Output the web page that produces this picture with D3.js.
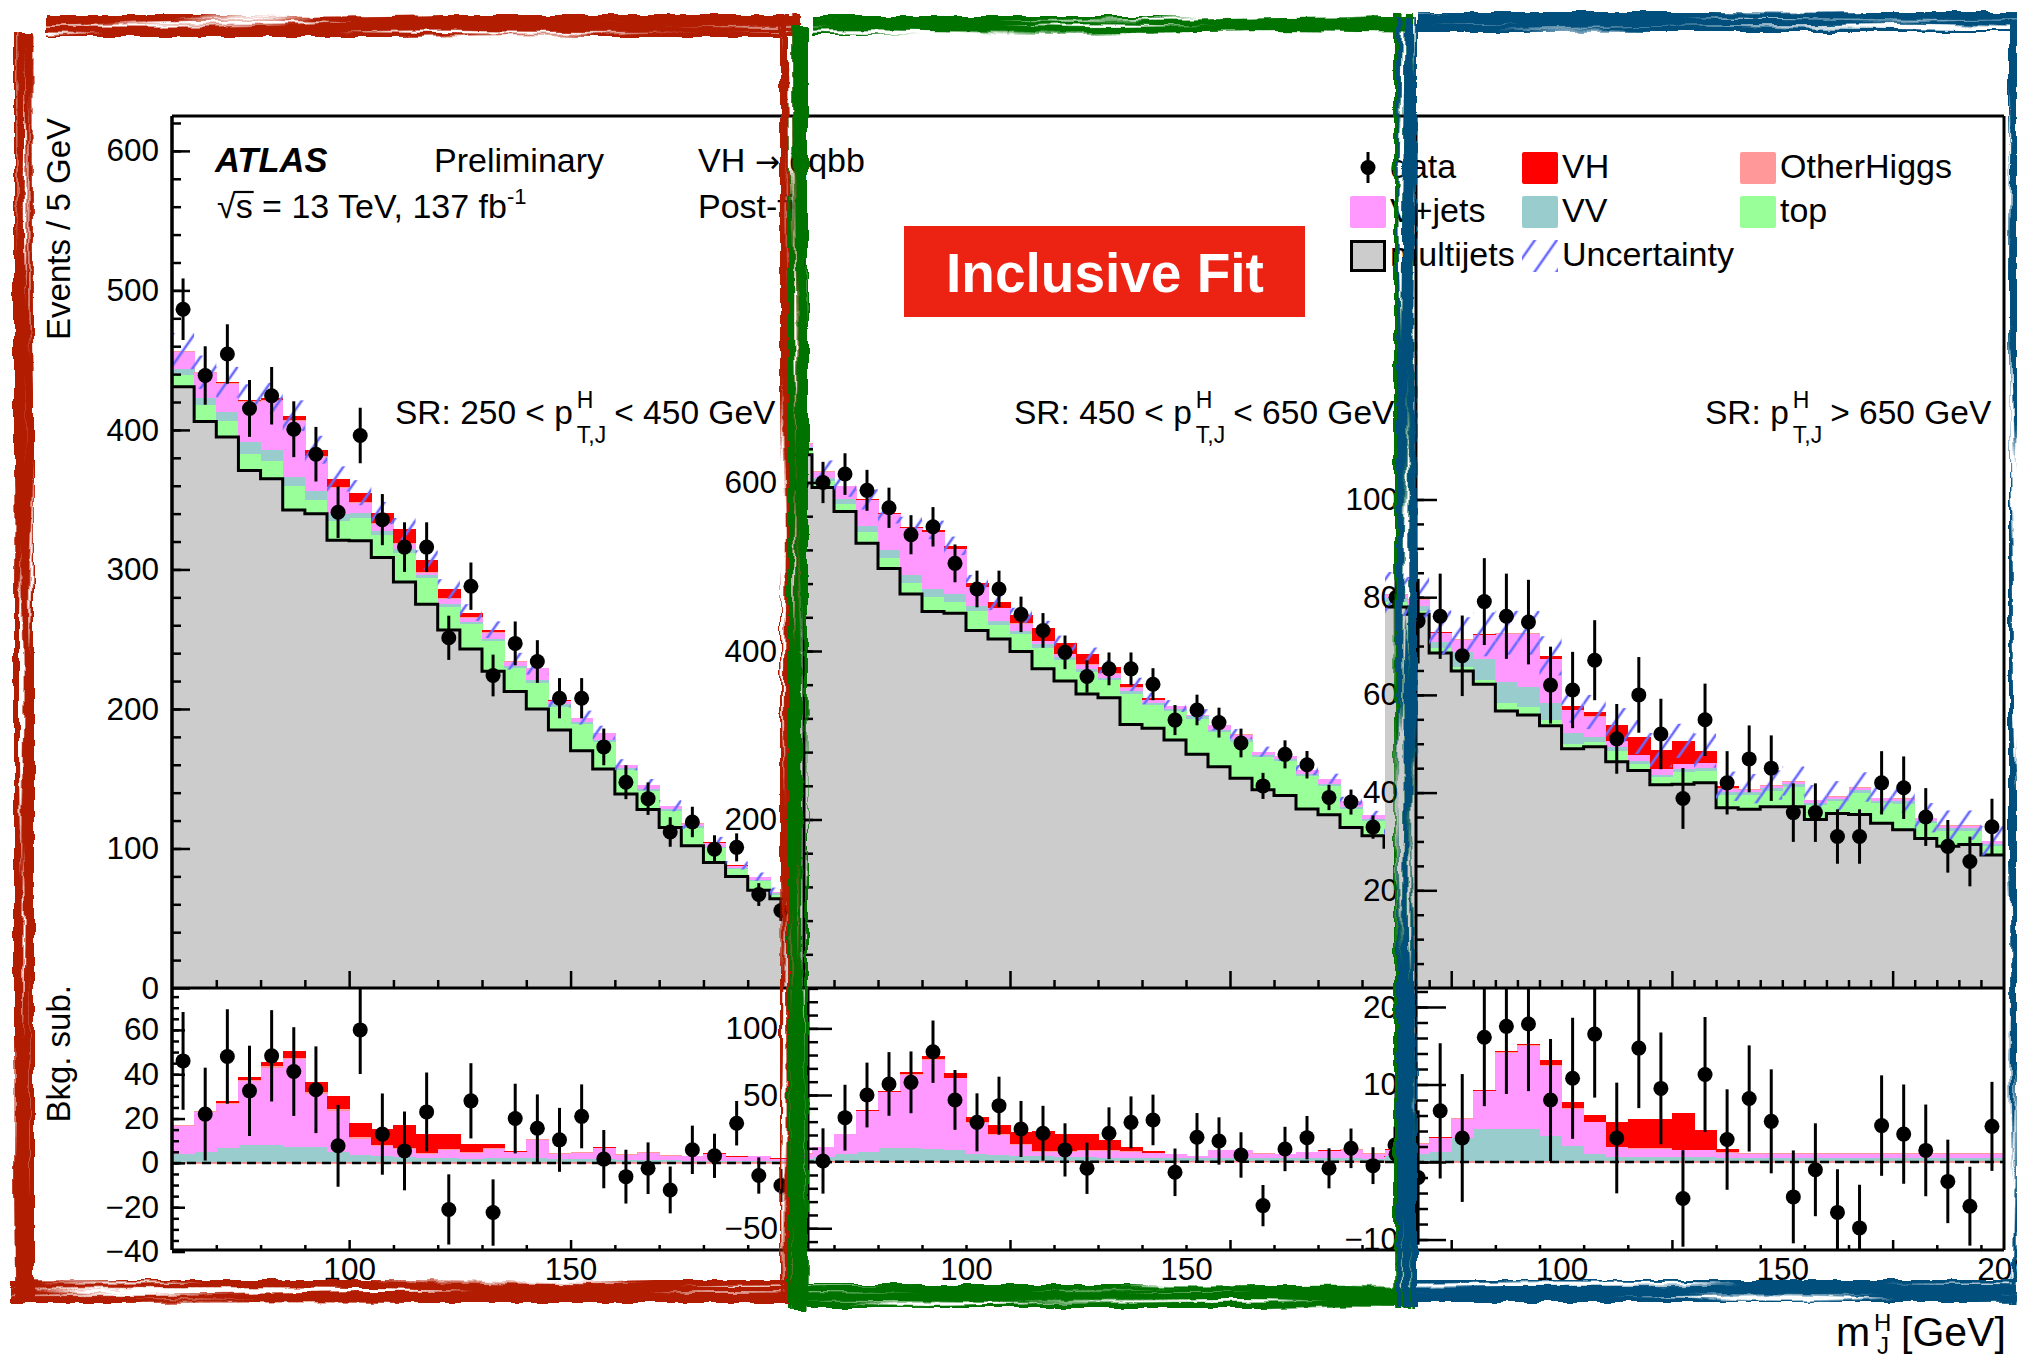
<!DOCTYPE html>
<html><head><meta charset="utf-8">
<script src="https://cdn.jsdelivr.net/npm/d3@7"></script>
<style>
html,body{margin:0;padding:0;background:#fff;overflow:hidden;}
</style></head><body>
<svg id="chart" width="2017" height="1358" xmlns="http://www.w3.org/2000/svg"></svg>
<script>
// ---------------- DATA ----------------
const massBins = [60,65,70,75,80,85,90,95,100,105,110,115,120,125,130,135,140,145,150,155,160,165,170,175,180,185,190,195];

// Panel 1 : 250 < pT < 450 GeV
const p1_multijets = [431,406,395,371,365,342.6,340,321,320.6,308.5,291,275,256.6,243,227,212.6,200,185,170,157,139,128,115,102,90,80,70,64];
const p1_top = [8.5,12,11.5,12,12.5,17,9.5,13.9,16.2,16.5,21,18.7,16.4,17.7,21.4,16.4,18.7,16.6,19,19,17,13,12,13,10,5,6.6,3];
const p1_VV = [4,5,6.6,8,8,7,7,4.7,3.6,2.9,2.6,2.1,2.1,1.8,2.1,2.1,2.1,1.7,1.7,1.7,1.4,1.4,1.1,1.0,1.0,0.9,0.9,0.8];
const p1_Vjets = [12.7,17.9,20,29,35,39.8,24,18.8,7.2,4.5,3.7,1.9,3.8,2.6,4.1,2.6,8.3,2.2,2.7,4.9,2.2,3.0,2.2,1.9,3.0,1.7,2.0,0.9];
const p1_OtherHiggs = [0.2,0.3,0.4,0.5,0.6,0.7,0.8,0.8,0.7,0.7,0.6,0.6,0.5,0.5,0.5,0.4,0.4,0.4,0.3,0.3,0.3,0.3,0.2,0.2,0.2,0.2,0.2,0.2];
const p1_VH = [0.1,0.1,0.7,1.2,1.8,3.1,4.5,5.7,6.7,7.3,10.0,8.4,6.6,3.5,1.7,0.1,0.1,0.2,0.1,0.1,0.1,0.1,0.1,0.1,0.1,0.1,0.1,0.1];
const p1_unc = [13,12,11,11,11,11,10,9,9,8,8,7,7,6,6,6,5,5,5,5,4,4,4,4,4,3,3,3];
const p1_data = [486.5,439,454.4,415.4,424.5,400.5,382.6,341,396,335.7,316,316,251,288,224,247,234,207.7,207.7,172.8,147.5,135.7,111.8,119,99.5,100.8,67,55.5];
const p1_dataSub = [46,22,48,32.5,48.3,41.2,33,7.7,60,13,5.4,23,-21,28,-22.4,20,15.6,10.4,21,1.7,-6.2,-2.4,-12.2,5.9,3.2,17.9,-5.7,-10.2];

// Panel 2 : 450 < pT < 650 GeV
const p2_multijets = [633,594,565.6,527.8,498,467.6,447,444.7,424.4,414.3,399.3,378.8,364.3,349,344.5,312.7,308.3,294.5,277.3,262.6,249,235.3,228.5,212.5,205.7,190.6,180.6,167];
const p2_top = [7,8,9.4,13.6,12.4,12.8,17.4,13.8,22.6,16.7,20.5,25,24.5,26.6,20.5,36.3,27.2,34.2,42.2,41,43.3,38.7,41,38.7,34.2,21.9,18.2,13.6];
const p2_VV = [2,3.8,5.5,7.5,10,10,9.5,9,6,5,4.5,4,3.5,3.5,3,3,3,3,3,3,3,2.5,2.5,2.5,2.5,2.5,2,2];
const p2_Vjets = [4,7,15,30.5,42,55,66.8,53.5,22.8,15,8,3.5,4,4.5,5,4.5,3.3,2.5,1,5.5,5.5,3.5,3,4.5,5.5,6.5,4,1.5];
const p2_OtherHiggs = [0.3,0.3,0.3,0.3,0.4,0.5,0.6,0.6,0.6,0.6,0.5,0.5,0.5,0.5,0.5,0.4,0.4,0.3,0.3,0.3,0.3,0.3,0.3,0.3,0.3,0.3,0.3,0.3];
const p2_VH = [0.2,0.1,0.2,0.2,0.6,1.5,2.4,3.2,3.9,6.9,9.5,15,12.5,12,7.8,3.4,1.6,0.2,0.2,0.2,0.2,0.2,0.2,0.2,0.2,0.2,0.2,0.2];
const p2_unc = [14,13,13,12,12,12,11,11,10,10,9,9,9,8,8,8,7,7,7,7,6,6,6,6,6,5,5,5];
const p2_data = [597,600,610,590.7,570,538,547.4,504,473.6,473.6,443.5,424.4,398.4,369.7,378.8,378.8,360.6,318,330,315,290.8,239.9,277.3,265,226.2,220.7,191,193];
const p2_dataSub = [-40,0.5,33,50,58.3,59.5,82.5,46.3,29.5,42,24.5,21.3,8.8,-5,21.3,29.5,31.3,-8,18.3,15.5,5,-33,9.5,18,-5,10,-3,12.5];

// Panel 3 : pT > 650 GeV
const p3_multijets = [78,76.5,68.6,64.9,62.2,56.7,55.9,53.7,49,49.4,46.3,44.5,41.6,41.7,42,36.9,36.6,37.1,37.1,34.5,35.7,35.5,33.7,32.4,30.6,29,29.4,27.2];
const p3_top = [1,0.7,1,0.8,0.9,1.7,1.6,1.2,1,1,2.3,1.4,1.5,2.6,2.5,2.7,3,3.3,4.1,2.9,2.5,4.5,4.1,5.3,3.1,3.2,2.8,1.8];
const p3_VV = [0.8,1.0,1.25,3.06,4.2,4.2,4.2,3.4,2.1,1.0,0.7,0.6,0.6,0.6,0.6,0.5,0.5,0.5,0.5,0.5,0.5,0.5,0.5,0.5,0.5,0.5,0.5,0.5];
const p3_Vjets = [0.7,1.3,1.8,2.5,4.9,9.9,10.8,9.0,4.8,4.1,1.2,1.1,1.1,0.9,0.9,0.7,0.5,0.5,0.5,0.5,0.5,0.5,0.5,0.5,0.5,0.5,0.5,0.5];
const p3_OtherHiggs = [0.1,0.1,0.1,0.1,0.1,0.1,0.1,0.1,0.1,0.1,0.1,0.1,0.1,0.1,0.1,0.1,0.1,0.1,0.1,0.1,0.1,0.1,0.1,0.1,0.1,0.1,0.1,0.1];
const p3_VH = [0.05,0.05,0.05,0.05,0.1,0.1,0.1,0.6,0.8,0.9,3.2,3.7,3.8,4.7,2.5,0.4,0.1,0.05,0.05,0.05,0.05,0.05,0.05,0.05,0.05,0.05,0.05,0.05];
const p3_unc = [4.5,4.5,4.5,4.5,4.5,4.5,4.5,4,3.5,3.5,3.5,3.5,3.5,3.5,3.5,3,3,3,3,3,3,3,3,3,3,3,3,3];
const p3_data = [80,75.1,76.1,68,79.1,76.1,74.9,62,61,67.1,51,60,52,38.8,54.9,42,46.9,45,35.9,35.9,31,31,42,41,35,29,25.9,33];
const p3_dataSub = [1,-2,6.6,3.1,16.1,17.5,17.8,8.0,10.8,16.5,3.1,14.7,9.5,-4.7,11.3,2.9,8.2,5.25,-4.5,-1,-6.5,-8.5,4.7,3.6,1.5,-2.5,-5.7,4.6];

// axis tick labels
const p1_topLabels = [0,100,200,300,400,500,600];
const p1_botLabels = [-40,-20,0,20,40,60];
const p2_topLabels = [200,400,600];
const p2_botLabels = [-50,50,100];
const p3_topLabels = [20,40,60,80,100];
const p3_botLabels = [-10,10,20];
const p1_xLabels = [100,150];
const p2_xLabels = [100,150];
const p3_xLabels = [100,150,200];

const legendRows = [
  [{key:"data",label:"data"},{key:"VH",label:"VH"},{key:"OtherHiggs",label:"OtherHiggs"}],
  [{key:"Vjets",label:"V+jets"},{key:"VV",label:"VV"},{key:"top",label:"top"}],
  [{key:"multijets",label:"multijets"},{key:"unc",label:"Uncertainty"}]
];

// ---------------- STYLE ----------------
const FONT = '"Liberation Sans", Arial, Helvetica, sans-serif';
const TICKFS = 31.5;
const colors = {multijets:"#cccccc", top:"#99ff99", VV:"#99cccc", Vjets:"#ff99ff", OtherHiggs:"#ff9999", VH:"#ff0000"};
const topKeys = ["multijets","top","VV","Vjets","OtherHiggs","VH"];
const botKeys = ["VV","Vjets","OtherHiggs","VH"];
const Y_TOP0 = 116, Y_MID = 988, Y_BOT = 1250, X_LEFT = 172, X_RIGHT = 2004;

const panels = [
  {mj:p1_multijets, top:p1_top, VV:p1_VV, Vjets:p1_Vjets, OH:p1_OtherHiggs, VH:p1_VH, unc:p1_unc, data:p1_data, sub:p1_dataSub,
   x0:172, x1:792, topDomain:[0,625], botDomain:[-39.3,78.9],
   yAxT:172, yAxB:172, topMajor:d3.range(0,601,100), topMinor:d3.range(20,625,20), topLabels:p1_topLabels, padT:13, majT:18, minT:9,
   botMajor:d3.range(-40,61,20), botMinor:d3.range(-35,78,5), botLabels:p1_botLabels, padB:13, majB:13, minB:7,
   xMajor:[100,150], xMinor:[70,80,90,110,120,130,140,160,170,180,190], xLabels:p1_xLabels,
   xMajorB:[100,150], xMinorB:[70,80,90,110,120,130,140,160,170,180,190]},
  {mj:p2_multijets, top:p2_top, VV:p2_VV, Vjets:p2_Vjets, OH:p2_OtherHiggs, VH:p2_VH, unc:p2_unc, data:p2_data, sub:p2_dataSub,
   x0:790, x1:1406, topDomain:[0,1035], botDomain:[-66.3,130.3],
   yAxT:804, yAxB:808, topMajor:[200,400,600], topMinor:d3.range(40,660,40), topLabels:p2_topLabels, padT:27, majT:18, minT:9,
   botMajor:[-50,0,50,100], botMinor:d3.range(-60,131,10), botLabels:p2_botLabels, padB:30, majB:24, minB:10,
   xMajor:[110,160], xMinor:[70,80,90,100,120,130,140,150,170,180,190], xLabels:p2_xLabels,
   xMajorB:[110,160], xMinorB:[70,80,90,100,120,130,140,150,170,180,190]},
  {mj:p3_multijets, top:p3_top, VV:p3_VV, Vjets:p3_Vjets, OH:p3_OtherHiggs, VH:p3_VH, unc:p3_unc, data:p3_data, sub:p3_dataSub,
   x0:1385, x1:2003, topDomain:[0,178.5], botDomain:[-11.35,22.45],
   yAxT:1416, yAxB:1416, topMajor:[20,40,60,80,100], topMinor:d3.range(5,101,5), topLabels:p3_topLabels, padT:18, majT:21, minT:8,
   botMajor:[-10,0,10,20], botMinor:d3.range(-10,23,2), botLabels:p3_botLabels, padB:18, majB:30, minB:12,
   xMajor:[75,125,175], xMinor:d3.range(65,200,5).filter(v=>v%50!==25), xLabels:p3_xLabels,
   xMajorB:[75,125,175], xMinorB:[85,95,105,115,135,145,155,165,185,195]}
];

// ---------------- DRAW ----------------
const svg = d3.select("#chart");
svg.append("rect").attr("width",2017).attr("height",1358).attr("fill","#fff");
const defs = svg.append("defs");

const pat = defs.append("pattern").attr("id","hatch").attr("patternUnits","userSpaceOnUse")
  .attr("width",18).attr("height",18).attr("patternTransform","rotate(35)");
pat.append("line").attr("x1",9).attr("y1",-2).attr("x2",9).attr("y2",20)
  .attr("stroke","#6a6aff").attr("stroke-width",2.6);

function brushFilter(id, freq, seed) {
  const f = defs.append("filter").attr("id", id).attr("filterUnits","userSpaceOnUse")
    .attr("x",0).attr("y",0).attr("width",2017).attr("height",1358);
  f.append("feTurbulence").attr("type","fractalNoise").attr("baseFrequency",freq)
    .attr("numOctaves",2).attr("seed",seed).attr("result","streak");
  f.append("feColorMatrix").attr("in","streak").attr("type","matrix")
    .attr("values","0 0 0 0 0  0 0 0 0 0  0 0 0 0 0  9 0 0 0 -3.0").attr("result","mask");
  f.append("feComposite").attr("in","SourceGraphic").attr("in2","mask").attr("operator","in").attr("result","streaked");
  f.append("feTurbulence").attr("type","fractalNoise").attr("baseFrequency","0.05")
    .attr("numOctaves",2).attr("seed",seed+11).attr("result","wob");
  f.append("feDisplacementMap").attr("in","streaked").attr("in2","wob").attr("scale",7)
    .attr("xChannelSelector","R").attr("yChannelSelector","G");
}
brushFilter("brushH","0.003 0.16",3);
brushFilter("brushV","0.16 0.003",7);

function styleAxis(a, fs) {
  a.select(".domain").remove();
  a.selectAll("line").attr("stroke","#000").attr("stroke-width",2.5);
  a.attr("font-family", FONT).attr("font-size", fs || TICKFS);
  a.selectAll("text").attr("fill","#000");
}

panels.forEach((p, i) => {
  const xs = d3.scaleLinear().domain([60,200]).range([p.x0, p.x1]);
  const yT = d3.scaleLinear().domain(p.topDomain).range([Y_MID, Y_TOP0]);
  const yB = d3.scaleLinear().domain(p.botDomain).range([Y_BOT, Y_MID]);

  defs.append("clipPath").attr("id","clipT"+i).append("rect")
    .attr("x",p.x0).attr("y",Y_TOP0).attr("width",p.x1-p.x0).attr("height",Y_MID-Y_TOP0);
  defs.append("clipPath").attr("id","clipB"+i).append("rect")
    .attr("x",p.x0).attr("y",Y_MID).attr("width",p.x1-p.x0).attr("height",Y_BOT-Y_MID);

  const rows = massBins.map((m,k) => ({m, multijets:p.mj[k], top:p.top[k], VV:p.VV[k], Vjets:p.Vjets[k],
    OtherHiggs:p.OH[k], VH:p.VH[k], data:p.data[k], sub:p.sub[k], unc:p.unc[k]}));

  // ---- top pad ----
  const gT = svg.append("g").attr("clip-path",`url(#clipT${i})`);
  const stT = d3.stack().keys(topKeys)(rows);
  stT.forEach(s => {
    gT.append("g").attr("fill", colors[s.key]).attr("shape-rendering","crispEdges")
      .selectAll("rect").data(s).join("rect")
      .attr("x", d => xs(d.data.m)).attr("width", d => xs(d.data.m+5) - xs(d.data.m) + 0.7)
      .attr("y", d => yT(d[1])).attr("height", d => Math.max(0, yT(d[0]) - yT(d[1])));
  });
  const pts = rows.map(r => [r.m, r.multijets]);
  pts.push([200, rows[rows.length-1].multijets]);
  gT.append("path").attr("d", d3.line().x(d => xs(d[0])).y(d => yT(d[1])).curve(d3.curveStepAfter)(pts))
    .attr("fill","none").attr("stroke","#000").attr("stroke-width",3);
  const totals = stT[stT.length-1].map(d => d[1]);
  gT.append("g").selectAll("rect").data(rows).join("rect")
    .attr("x", d => xs(d.m)).attr("width", d => xs(d.m+5) - xs(d.m))
    .attr("y", (d,k) => yT(totals[k] + d.unc))
    .attr("height", (d,k) => yT(totals[k] - d.unc) - yT(totals[k] + d.unc))
    .attr("fill","url(#hatch)");
  const dT = gT.append("g");
  dT.selectAll("line").data(rows).join("line")
    .attr("x1", d => xs(d.m+2.5)).attr("x2", d => xs(d.m+2.5))
    .attr("y1", d => yT(d.data + Math.sqrt(d.data))).attr("y2", d => yT(d.data - Math.sqrt(d.data)))
    .attr("stroke","#000").attr("stroke-width",3);
  dT.selectAll("circle").data(rows).join("circle")
    .attr("cx", d => xs(d.m+2.5)).attr("cy", d => yT(d.data)).attr("r",7.5).attr("fill","#000");

  // ---- bottom pad ----
  const gB = svg.append("g").attr("clip-path",`url(#clipB${i})`);
  const stB = d3.stack().keys(botKeys)(rows);
  stB.forEach(s => {
    gB.append("g").attr("fill", colors[s.key]).attr("shape-rendering","crispEdges")
      .selectAll("rect").data(s).join("rect")
      .attr("x", d => xs(d.data.m)).attr("width", d => xs(d.data.m+5) - xs(d.data.m) + 0.7)
      .attr("y", d => yB(d[1])).attr("height", d => Math.max(0, yB(d[0]) - yB(d[1])));
  });
  gB.append("line").attr("x1",p.x0).attr("x2",p.x1).attr("y1",yB(0)).attr("y2",yB(0))
    .attr("stroke","#ff7777").attr("stroke-width",1.5);
  gB.append("line").attr("x1",p.x0).attr("x2",p.x1).attr("y1",yB(0)).attr("y2",yB(0))
    .attr("stroke","#000").attr("stroke-width",2.5).attr("stroke-dasharray","9,6");
  const dB = gB.append("g");
  dB.selectAll("line").data(rows).join("line")
    .attr("x1", d => xs(d.m+2.5)).attr("x2", d => xs(d.m+2.5))
    .attr("y1", d => yB(d.sub + Math.sqrt(d.data))).attr("y2", d => yB(d.sub - Math.sqrt(d.data)))
    .attr("stroke","#000").attr("stroke-width",3);
  dB.selectAll("circle").data(rows).join("circle")
    .attr("cx", d => xs(d.m+2.5)).attr("cy", d => yB(d.sub)).attr("r",7.5).attr("fill","#000");

  // ---- axes ----
  const gA = svg.append("g");
  gA.append("line").attr("x1",p.yAxT).attr("x2",p.yAxT).attr("y1",Y_TOP0).attr("y2",Y_MID).attr("stroke","#000").attr("stroke-width",3);
  gA.append("line").attr("x1",p.yAxB).attr("x2",p.yAxB).attr("y1",Y_MID).attr("y2",Y_BOT).attr("stroke","#000").attr("stroke-width",3);
  styleAxis(gA.append("g").attr("transform",`translate(${p.yAxT},0)`)
    .call(d3.axisRight(yT).tickValues(p.topMinor).tickSize(p.minT).tickFormat("")));
  styleAxis(gA.append("g").attr("transform",`translate(${p.yAxT},0)`)
    .call(d3.axisRight(yT).tickValues(p.topMajor).tickSize(p.majT).tickFormat("")));
  styleAxis(gA.append("g").attr("transform",`translate(${p.yAxT},0)`)
    .call(d3.axisLeft(yT).tickValues(p.topLabels).tickSize(0).tickPadding(p.padT).tickFormat(d3.format("d"))));
  styleAxis(gA.append("g").attr("transform",`translate(${p.yAxB},0)`)
    .call(d3.axisRight(yB).tickValues(p.botMinor).tickSize(p.minB).tickFormat("")));
  styleAxis(gA.append("g").attr("transform",`translate(${p.yAxB},0)`)
    .call(d3.axisRight(yB).tickValues(p.botMajor).tickSize(p.majB).tickFormat("")));
  styleAxis(gA.append("g").attr("transform",`translate(${p.yAxB},0)`)
    .call(d3.axisLeft(yB).tickValues(p.botLabels).tickSize(0).tickPadding(p.padB).tickFormat(d3.format("d"))));
  styleAxis(gA.append("g").attr("transform",`translate(0,${Y_MID})`)
    .call(d3.axisTop(xs).tickValues(p.xMinor).tickSize(8).tickFormat("")));
  styleAxis(gA.append("g").attr("transform",`translate(0,${Y_MID})`)
    .call(d3.axisTop(xs).tickValues(p.xMajor).tickSize(17).tickFormat("")));
  styleAxis(gA.append("g").attr("transform",`translate(0,${Y_BOT})`)
    .call(d3.axisTop(xs).tickValues(p.xMinorB).tickSize(5).tickFormat("")));
  styleAxis(gA.append("g").attr("transform",`translate(0,${Y_BOT})`)
    .call(d3.axisTop(xs).tickValues(p.xMajorB).tickSize(10).tickFormat("")));
  styleAxis(gA.append("g").attr("transform",`translate(0,${Y_BOT})`)
    .call(d3.axisBottom(xs).tickValues(p.xLabels).tickSize(0).tickPadding(8).tickFormat(d3.format("d"))));
});

// outer frame lines
const fr = svg.append("g").attr("stroke","#000").attr("stroke-width",3).attr("fill","none");
fr.append("line").attr("x1",X_LEFT).attr("x2",X_RIGHT).attr("y1",Y_TOP0).attr("y2",Y_TOP0);
fr.append("line").attr("x1",X_LEFT).attr("x2",X_RIGHT).attr("y1",Y_MID).attr("y2",Y_MID);
fr.append("line").attr("x1",X_LEFT).attr("x2",X_RIGHT).attr("y1",Y_BOT).attr("y2",Y_BOT);
fr.append("line").attr("x1",X_LEFT).attr("x2",X_LEFT).attr("y1",Y_TOP0).attr("y2",Y_BOT);
fr.append("line").attr("x1",X_RIGHT).attr("x2",X_RIGHT).attr("y1",Y_TOP0).attr("y2",Y_BOT);

// ---------------- TEXT ----------------
const tg = svg.append("g").attr("font-family", FONT).attr("fill","#000");
function txt(x, y, s, fs, extra) {
  const t = tg.append("text").attr("x",x).attr("y",y).attr("font-size",fs).text(s);
  if (extra) Object.entries(extra).forEach(([k,v]) => t.attr(k,v));
  return t;
}
txt(215, 172, "ATLAS", 34.5, {"font-weight":"bold","font-style":"italic"});
txt(434, 172, "Preliminary", 34);
{
  const t = txt(698, 172, "VH ", 34);
  t.append("tspan").attr("font-family",'"DejaVu Sans", sans-serif').attr("font-size",30).text("\u2192");
  t.append("tspan").text(" qqbb");
}
const rs = txt(217, 218, "\u221As = 13 TeV, 137 fb", 34);
rs.append("tspan").attr("font-size",22).attr("dy",-14).text("-1");
{
  const n = rs.node();
  const sx0 = 217 + n.getSubStringLength(0,1);
  const sw = n.getSubStringLength(1,1);
  tg.append("line").attr("x1",sx0-1).attr("x2",sx0+sw+1).attr("y1",192).attr("y2",192)
    .attr("stroke","#000").attr("stroke-width",2.2);
}
txt(698, 218, "Post-fit", 34);

function srLabel(x, y, pre, post) {
  const t1 = txt(x, y, pre, 33.5);
  const sx = x + t1.node().getComputedTextLength() + 4;
  txt(sx, y - 16, "H", 23);
  const t3 = txt(sx, y + 19, "T,J", 23);
  txt(sx + t3.node().getComputedTextLength() + 8, y, post, 33.5);
}
srLabel(395, 424, "SR: 250 < p", "< 450 GeV");
srLabel(1014, 424, "SR: 450 < p", "< 650 GeV");
srLabel(1705, 424, "SR: p", "> 650 GeV");

// axis titles
txt(0, 0, "Events / 5 GeV", 33, {"text-anchor":"end", transform:"translate(70,118) rotate(-90)"});
txt(0, 0, "Bkg. sub.", 33, {"text-anchor":"end", transform:"translate(70,985) rotate(-90)"});
txt(1836, 1346, "m", 41);
txt(1874, 1331, "H", 24);
txt(1877, 1354, "J", 24);
txt(1901, 1346, "[GeV]", 41);

// ---------------- LEGEND ----------------
const colX = [1350, 1522, 1740];
const rowY = [152, 196, 240];
const lg = svg.append("g");
legendRows.forEach((row, r) => {
  row.forEach((item, c) => {
    const bx = colX[c], by = rowY[r];
    if (item.key === "data") {
      lg.append("line").attr("x1",bx+18).attr("x2",bx+18).attr("y1",by).attr("y2",by+31).attr("stroke","#000").attr("stroke-width",3);
      lg.append("circle").attr("cx",bx+18).attr("cy",by+15.5).attr("r",7.5).attr("fill","#000");
    } else if (item.key === "unc") {
      lg.append("rect").attr("x",bx).attr("y",by).attr("width",36).attr("height",32).attr("fill","url(#hatch)");
    } else if (item.key === "multijets") {
      lg.append("rect").attr("x",bx+1.5).attr("y",by+1.5).attr("width",33).attr("height",29)
        .attr("fill",colors.multijets).attr("stroke","#000").attr("stroke-width",3);
    } else {
      lg.append("rect").attr("x",bx).attr("y",by).attr("width",36).attr("height",32).attr("rx",2).attr("fill",colors[item.key]);
    }
    lg.append("text").attr("x",bx+40).attr("y",by+25.5).attr("font-family",FONT).attr("font-size",34).text(item.label);
  });
});

// Inclusive Fit banner
svg.append("rect").attr("x",904).attr("y",226).attr("width",401).attr("height",91).attr("fill","#ec2213");
svg.append("text").attr("x",1105).attr("y",292).attr("text-anchor","middle").attr("font-family",FONT)
  .attr("font-size",55).attr("font-weight","bold").attr("fill","#fff").text("Inclusive Fit");

// ---------------- HAND-DRAWN FRAMES ----------------
const frames = [
  {color:"#b21a00", h:[[45,15,755,22],[10,1280,792,23]], v:[[14,32,20,1268],[780,14,20,1290]]},
  {color:"#067206", h:[[812,16,602,19],[790,1284,626,24]], v:[[788,26,20,1284],[1394,13,20,1296]]},
  {color:"#014f7d", h:[[1418,12,599,20],[1414,1280,603,22]], v:[[1397,17,20,1290],[2009,20,8,1284]]}
];
frames.forEach(f => {
  const gh = svg.append("g").attr("filter","url(#brushH)").attr("fill",f.color);
  f.h.forEach(r => gh.append("rect").attr("x",r[0]).attr("y",r[1]).attr("width",r[2]).attr("height",r[3]));
  const gv = svg.append("g").attr("filter","url(#brushV)").attr("fill",f.color);
  f.v.forEach(r => gv.append("rect").attr("x",r[0]).attr("y",r[1]).attr("width",r[2]).attr("height",r[3]));
});
</script>
</body></html>
